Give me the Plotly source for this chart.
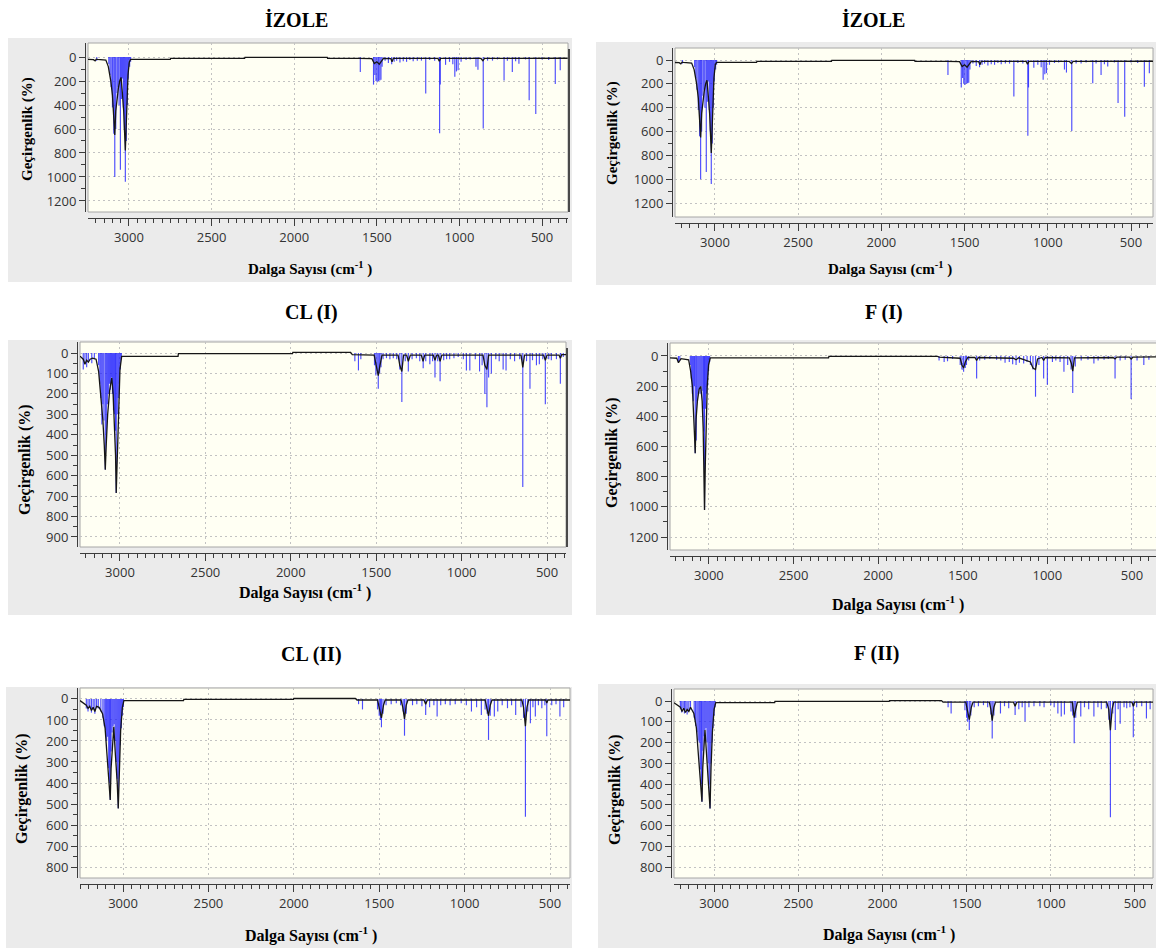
import plotly.graph_objects as go

W, H = 1156, 948

# ---------------------------------------------------------------- axis ticks
wn_ticks = [3000, 2500, 2000, 1500, 1000, 500]
ticks_1200 = [0, 200, 400, 600, 800, 1000, 1200]
ticks_900 = [0, 100, 200, 300, 400, 500, 600, 700, 800, 900]
ticks_800 = [0, 100, 200, 300, 400, 500, 600, 700, 800]

# ---------------------------------------------------------------- İZOLE
izole_stick_wn = [3195, 3122, 3115, 3108, 3100, 3092, 3086, 3080, 3072, 3066, 3060, 3052, 3046, 3040,
                  3034, 3028, 3022, 3016, 3010, 3004, 2996, 2990,
                  1600, 1520, 1512, 1505, 1498, 1490, 1482, 1475, 1468, 1450, 1430, 1410, 1395, 1380,
                  1360, 1340, 1320, 1300, 1280, 1255, 1230, 1204, 1180, 1150, 1120, 1116, 1084, 1060,
                  1040, 1028, 1018, 1008, 990, 960, 935, 900, 888, 856, 830, 800, 770, 730, 710, 680,
                  660, 640, 600, 578, 538, 500, 460, 420, 390]
izole_stick_int = [30, 60, 150, 250, 420, 640, 1000, 600, 300, 250, 400, 940, 350, 180,
                   420, 600, 1040, 700, 400, 180, 80, 40,
                   125, 230, 150, 200, 210, 200, 195, 190, 80, 30, 50, 60, 40, 30,
                   45, 35, 40, 25, 35, 30, 30, 305, 25, 30, 635, 230, 65, 40,
                   60, 165, 120, 110, 40, 25, 20, 80, 105, 595, 30, 30, 20, 195, 30, 125,
                   35, 55, 20, 360, 475, 20, 25, 225, 110]
izole_line_wn = [3248, 3215, 3205, 3198, 3190, 3140, 3125, 3110, 3100, 3092, 3086, 3080, 3072, 3064,
                 3056, 3048, 3040, 3032, 3022, 3014, 3006, 2998, 2990, 2750, 2748, 2300, 2298, 1800,
                 1798, 1610, 1530, 1515, 1500, 1485, 1470, 1460, 1415, 1408, 1400, 1130, 1122, 1114,
                 870, 858, 848, 345]
izole_line_val = [20, 22, 32, 18, 20, 25, 80, 200, 320, 500, 650, 450, 330, 260,
                  200, 170, 300, 450, 780, 420, 150, 40, 20, 20, 12, 12, 3, 3,
                  12, 12, 14, 55, 40, 60, 30, 12, 14, 40, 12, 12, 35, 12,
                  12, 30, 12, 10]

# ---------------------------------------------------------------- CL (I)
cl1_stick_wn = [3215, 3205, 3195, 3185, 3165, 3150, 3125, 3118, 3112, 3106, 3100, 3094, 3086, 3080,
                3074, 3068, 3062, 3056, 3050, 3044, 3038, 3032, 3026, 3022, 3016, 3010, 3004, 2998, 2992,
                1625, 1604, 1590, 1510, 1502, 1495, 1488, 1480, 1472, 1460, 1440, 1420, 1400, 1380,
                1362, 1350, 1330, 1312, 1290, 1265, 1245, 1225, 1210, 1186, 1170, 1156, 1140, 1126,
                1105, 1088, 1070, 1045, 1020, 990, 972, 952, 920, 895, 880, 864, 852, 842, 826, 800,
                780, 757, 740, 715, 690, 660, 642, 620, 600, 585, 562, 545, 525, 510, 490, 475, 445,
                422, 405]
cl1_stick_int = [80, 50, 70, 40, 50, 30, 60, 150, 220, 350, 250, 330, 570, 400,
                 250, 200, 150, 180, 120, 200, 280, 300, 380, 685, 300, 220, 150, 80, 30,
                 40, 85, 30, 60, 110, 90, 175, 100, 70, 30, 25, 30, 25, 30,
                 80, 240, 40, 90, 30, 25, 40, 75, 40, 55, 40, 120, 40, 138,
                 35, 30, 30, 25, 20, 30, 85, 85, 30, 90, 60, 200, 265, 120, 100, 30,
                 40, 80, 85, 30, 40, 30, 655, 40, 175, 35, 60, 55, 30, 250, 30, 35, 30,
                 150, 20]
cl1_line_wn = [3234, 3215, 3205, 3195, 3185, 3175, 3160, 3140, 3125, 3112, 3100, 3092, 3086, 3080,
               3072, 3060, 3048, 3040, 3032, 3026, 3022, 3016, 3008, 3000, 2990, 2660, 2658, 1990,
               1988, 1650, 1640, 1512, 1500, 1488, 1478, 1466, 1372, 1362, 1350, 1340, 1322, 1312,
               1300, 1236, 1226, 1216, 1166, 1156, 1146, 1136, 1126, 1116, 875, 864, 852, 842,
               652, 642, 632, 520, 510, 500, 430, 422, 414, 389]
cl1_line_val = [15, 30, 55, 35, 45, 30, 25, 30, 90, 200, 330, 450, 571, 440,
                300, 180, 122, 200, 350, 500, 685, 480, 250, 80, 16, 16, 3, 3,
                -3, -3, 8, 10, 60, 110, 60, 10, 10, 60, 90, 10, 10, 40,
                10, 10, 40, 10, 10, 35, 10, 10, 40, 10, 10, 60, 80, 10,
                10, 70, 10, 10, 35, 10, 10, 25, 8, 8]

# ---------------------------------------------------------------- F (I)
f1_stick_wn = [3180, 3172, 3110, 3104, 3098, 3092, 3086, 3081, 3075, 3070, 3064, 3058, 3052, 3046,
               3040, 3034, 3030, 3026, 3020, 3014, 3008, 3002, 2996,
               1640, 1610, 1590, 1560, 1515, 1505, 1495, 1485, 1478, 1465, 1418, 1400, 1370, 1340,
               1300, 1275, 1250, 1225, 1205, 1185, 1165, 1140, 1120, 1100, 1085, 1070, 1050, 1022,
               1000, 970, 950, 925, 902, 880, 860, 850, 835, 800, 760, 725, 700, 665, 640, 600,
               570, 540, 505, 470, 430, 400]
f1_stick_int = [40, 30, 60, 150, 250, 300, 200, 645, 560, 300, 250, 220, 250, 200,
                230, 350, 500, 1020, 350, 250, 200, 100, 40,
                30, 40, 35, 20, 60, 90, 105, 80, 60, 30, 150, 30, 25, 20,
                25, 30, 45, 40, 55, 60, 45, 50, 40, 60, 90, 270, 60, 150,
                190, 40, 30, 40, 105, 60, 90, 245, 70, 30, 25, 50, 30, 25, 20, 150,
                30, 25, 285, 30, 60, 25]
f1_line_wn = [3230, 3190, 3180, 3172, 3165, 3120, 3108, 3098, 3090, 3085, 3081, 3076, 3068, 3058,
              3048, 3040, 3034, 3030, 3026, 3021, 3016, 3010, 3002, 2992, 2293, 2291, 1650, 1640,
              1515, 1505, 1495, 1485, 1470, 1428, 1418, 1408, 1200, 1185, 1170, 1100, 1085, 1070,
              1058, 1032, 1022, 1012, 870, 858, 850, 840, 612, 600, 590, 515, 505, 495, 358]
f1_line_val = [12, 15, 45, 25, 18, 25, 100, 200, 360, 530, 645, 420, 300, 220,
               203, 300, 480, 750, 1020, 700, 400, 200, 60, 12, 12, 2, 2, 8,
               15, 60, 80, 40, 10, 10, 30, 10, 15, 25, 12, 40, 80, 90,
               20, 10, 30, 10, 12, 50, 100, 12, 10, 20, 8, 8, 20, 8, 6]

# ---------------------------------------------------------------- CL (II)
cl2_stick_wn = [3215, 3205, 3195, 3185, 3175, 3165, 3155, 3145, 3130, 3118, 3110, 3102, 3096, 3090,
                3084, 3078, 3075, 3070, 3064, 3058, 3052, 3046, 3040, 3034, 3028, 3022, 3016, 3010,
                3004, 2998,
                1621, 1598, 1510, 1500, 1493, 1487, 1478, 1460, 1430, 1400, 1375, 1360, 1352, 1342,
                1305, 1280, 1250, 1228, 1205, 1180, 1161, 1140, 1113, 1085, 1055, 1020, 990, 960,
                930, 902, 880, 868, 860, 850, 826, 806, 780, 749, 725, 701, 670, 655, 644, 630,
                615, 600, 586, 568, 548, 530, 519, 490, 465, 442, 420]
cl2_stick_int = [45, 60, 40, 65, 50, 70, 40, 45, 60, 90, 130, 150, 200, 180,
                 330, 400, 480, 250, 160, 130, 120, 200, 300, 380, 520, 300, 220, 140,
                 80, 40,
                 25, 50, 50, 80, 100, 135, 70, 30, 25, 20, 30, 60, 175, 70,
                 30, 25, 35, 76, 40, 30, 84, 30, 25, 30, 25, 20, 30, 60,
                 40, 76, 50, 70, 195, 80, 84, 60, 30, 44, 30, 76, 40, 90, 560, 60,
                 116, 40, 84, 30, 44, 30, 178, 30, 25, 84, 40]
cl2_line_wn = [3252, 3215, 3205, 3195, 3185, 3175, 3165, 3155, 3140, 3120, 3105, 3095, 3085, 3080,
               3075, 3070, 3062, 3054, 3046, 3040, 3034, 3028, 3022, 3014, 3004, 2995, 2646, 2644,
               2002, 2000, 1640, 1630, 1510, 1500, 1487, 1475, 1465, 1372, 1362, 1352, 1342, 1332,
               1238, 1228, 1218, 880, 870, 860, 850, 840, 665, 655, 644, 635, 625, 525, 519, 512, 383]
cl2_line_val = [8, 30, 45, 35, 55, 40, 60, 35, 40, 70, 140, 250, 330, 400,
                481, 330, 200, 132, 250, 320, 400, 521, 320, 150, 40, 8, 8, 2,
                2, -2, -2, 5, 5, 40, 90, 30, 5, 5, 40, 95, 30, 5,
                5, 25, 5, 5, 40, 80, 30, 5, 5, 40, 130, 40, 5, 5, 20, 5, 5]

# ---------------------------------------------------------------- F (II)
f2_stick_wn = [3200, 3192, 3184, 3176, 3168, 3160, 3150, 3140, 3118, 3110, 3102, 3095, 3088, 3082,
               3076, 3072, 3066, 3060, 3054, 3048, 3042, 3036, 3030, 3024, 3018, 3012, 3006, 3000, 2994,
               1610, 1592, 1510, 1500, 1494, 1484, 1475, 1455, 1430, 1400, 1375, 1356, 1348, 1338,
               1299, 1275, 1250, 1212, 1190, 1170, 1153, 1130, 1100, 1065, 1040, 1000, 980, 958,
               938, 919, 880, 870, 861, 852, 822, 800, 775, 744, 720, 700, 670, 655, 646, 632,
               617, 600, 588, 565, 549, 530, 510, 490, 460, 432, 410]
f2_stick_int = [40, 55, 35, 60, 45, 65, 50, 40, 80, 120, 150, 190, 200, 330,
                400, 485, 240, 170, 140, 130, 200, 300, 400, 518, 300, 200, 130, 70, 30,
                30, 60, 45, 80, 100, 140, 70, 30, 25, 20, 30, 65, 180, 70,
                60, 25, 35, 67, 40, 30, 99, 30, 25, 25, 30, 20, 30, 60,
                75, 65, 50, 70, 204, 80, 75, 30, 40, 75, 30, 40, 35, 90, 560, 60,
                140, 40, 110, 30, 35, 30, 175, 30, 25, 84, 40]
f2_line_wn = [3238, 3200, 3190, 3180, 3170, 3160, 3150, 3140, 3120, 3105, 3095, 3085, 3078, 3072,
              3067, 3060, 3054, 3046, 3038, 3030, 3024, 3018, 3010, 3000, 2990, 2640, 2638, 1960,
              1958, 1650, 1640, 1505, 1495, 1484, 1472, 1462, 1365, 1356, 1348, 1338, 1328, 1222,
              1212, 1202, 872, 861, 852, 842, 668, 656, 646, 636, 626, 518, 510, 502, 393]
f2_line_val = [8, 30, 50, 35, 55, 40, 50, 30, 60, 130, 240, 330, 400, 485,
               320, 200, 140, 240, 330, 420, 518, 320, 150, 40, 8, 8, 2, 2,
               -2, -2, 5, 5, 40, 90, 30, 5, 5, 40, 95, 30, 5, 5,
               25, 5, 5, 80, 40, 5, 5, 40, 140, 40, 5, 5, 25, 5, 5]

# ---------------------------------------------------------------- panel layout (pixels)
panels = [
    dict(title="İZOLE", sticks=(izole_stick_wn, izole_stick_int), line=(izole_line_wn, izole_line_val),
         frame=(8, 38, 572, 282), box=(88, 43, 568, 212), xr=[3248, 343], yr=[1292, -117],
         yticks=ticks_1200, title_at=(296, 19), xt_at=(310, 268), yt_at=(27, 129), lab=15, edge=True),
    dict(title="İZOLE", sticks=(izole_stick_wn, izole_stick_int), line=(izole_line_wn, izole_line_val),
         frame=(596, 42, 1156, 285), box=(675, 48, 1153, 217), xr=[3240, 368], yr=[1317, -101],
         yticks=ticks_1200, title_at=(873, 20), xt_at=(890, 268), yt_at=(612, 133), lab=15, edge=False),
    dict(title="CL (I)", sticks=(cl1_stick_wn, cl1_stick_int), line=(cl1_line_wn, cl1_line_val),
         frame=(8, 340, 572, 615), box=(80, 342, 566, 547), xr=[3234, 389], yr=[949, -54],
         yticks=ticks_900, title_at=(311, 312), xt_at=(305, 591), yt_at=(25, 460), lab=16, edge=True),
    dict(title="F (I)", sticks=(f1_stick_wn, f1_stick_int), line=(f1_line_wn, f1_line_val),
         frame=(596, 340, 1156, 615), box=(670, 343, 1160, 550), xr=[3230, 358], yr=[1286, -86],
         yticks=ticks_1200, title_at=(884, 312), xt_at=(898, 603), yt_at=(612, 453), lab=16, edge=False),
    dict(title="CL (II)", sticks=(cl2_stick_wn, cl2_stick_int), line=(cl2_line_wn, cl2_line_val),
         frame=(6, 687, 572, 948), box=(80, 688, 570, 878), xr=[3252, 383], yr=[852, -52],
         yticks=ticks_800, title_at=(311, 654), xt_at=(311, 934), yt_at=(22, 789), lab=16, edge=False),
    dict(title="F (II)", sticks=(f2_stick_wn, f2_stick_int), line=(f2_line_wn, f2_line_val),
         frame=(598, 684, 1156, 948), box=(674, 689, 1153, 878), xr=[3238, 393], yr=[853, -58],
         yticks=ticks_800, title_at=(876, 653), xt_at=(889, 933), yt_at=(615, 790), lab=16, edge=False),
]

STICK = "rgba(25,25,255,0.78)"
CURVE = "#161616"
AXIS = "#3c3c3c"
GRID = "#c2c2c2"
FRAME = "#ebebeb"
PLOT_BG = "#fffff3"
SERIF = "Liberation Serif"
SANS = "Open Sans"


def px(x):
    return x / W


def py(y):
    return 1 - y / H


def stick_path(wn, inten):
    xs, ys = [], []
    for w, v in zip(wn, inten):
        xs += [w, w, None]
        ys += [0, v, None]
    return xs, ys


fig = go.Figure()
frames, boxes, extra = [], [], []
notes = []
axes = {}

for i, p in enumerate(panels, start=1):
    sfx = "" if i == 1 else str(i)
    xref, yref = "x" + sfx, "y" + sfx

    sx, sy = stick_path(*p["sticks"])
    fig.add_trace(go.Scatter(x=sx, y=sy, mode="lines", xaxis=xref, yaxis=yref,
                             line=dict(color=STICK, width=1.15), hoverinfo="skip", showlegend=False))
    fig.add_trace(go.Scatter(x=p["line"][0], y=p["line"][1], mode="lines", xaxis=xref, yaxis=yref,
                             line=dict(color=CURVE, width=1.3), hoverinfo="skip", showlegend=False))

    fx0, fy0, fx1, fy1 = p["frame"]
    bx0, by0, bx1, by1 = p["box"]
    frames.append(dict(type="rect", xref="paper", yref="paper", layer="below",
                       x0=px(fx0), x1=px(fx1), y0=py(fy1), y1=py(fy0),
                       fillcolor=FRAME, line=dict(width=0)))
    boxes.append(dict(type="rect", xref="paper", yref="paper", layer="below",
                      x0=px(bx0), x1=px(bx1), y0=py(by1), y1=py(by0),
                      fillcolor=PLOT_BG, line=dict(color="#a6a6a6", width=1)))
    if p["edge"]:
        extra.append(dict(type="line", xref="paper", yref="paper", layer="above",
                          x0=px(bx1 + 1), x1=px(bx1 + 1), y0=py(by1), y1=py(by0 + 6),
                          line=dict(color="#4a4a4a", width=2)))

    yt = p["yticks"]
    y_minor = [(a + b) / 2 for a, b in zip(yt[:-1], yt[1:])]

    axes["xaxis" + sfx] = dict(
        domain=[px(bx0), px(min(bx1, W))], range=p["xr"], anchor="free", position=py(by1 + 6),
        showline=True, linecolor=AXIS, linewidth=1, ticks="outside", ticklen=7, tickwidth=1.3,
        tickcolor=AXIS, tickmode="array", tickvals=wn_ticks,
        tickfont=dict(family=SANS, size=13, color="#333333"),
        showgrid=True, gridcolor=GRID, gridwidth=1, griddash="2px,3px", zeroline=False,
        minor=dict(tickmode="linear", tick0=0, dtick=50, ticks="outside", ticklen=4,
                   tickwidth=1, tickcolor=AXIS, showgrid=False),
    )
    axes["yaxis" + sfx] = dict(
        domain=[py(by1), py(by0)], range=p["yr"], anchor="free", position=px(bx0 - 3),
        showline=True, linecolor=AXIS, linewidth=1, ticks="outside", ticklen=6, tickwidth=1.3,
        tickcolor=AXIS, tickmode="array", tickvals=yt,
        tickfont=dict(family=SANS, size=13, color="#333333"),
        showgrid=True, gridcolor=GRID, gridwidth=1, griddash="2px,3px", zeroline=False,
        minor=dict(tickmode="array", tickvals=y_minor, ticks="outside", ticklen=4,
                   tickwidth=1, tickcolor=AXIS, showgrid=False),
    )

    tx, ty = p["title_at"]
    notes.append(dict(text="<b>%s</b>" % p["title"], x=px(tx), y=py(ty), xref="paper", yref="paper",
                      showarrow=False, xanchor="center", yanchor="middle",
                      font=dict(family=SERIF, size=20, color="black")))
    ax_, ay_ = p["xt_at"]
    notes.append(dict(text="<b>Dalga Sayısı (cm<sup>-1</sup> )</b>", x=px(ax_), y=py(ay_),
                      xref="paper", yref="paper", showarrow=False, xanchor="center", yanchor="middle",
                      font=dict(family=SERIF, size=p["lab"], color="black")))
    gx, gy = p["yt_at"]
    notes.append(dict(text="<b>Geçirgenlik (%)</b>", x=px(gx), y=py(gy), xref="paper", yref="paper",
                      showarrow=False, xanchor="center", yanchor="middle", textangle=-90,
                      font=dict(family=SERIF, size=p["lab"], color="black")))

fig.update_layout(
    width=W, height=H, autosize=False,
    margin=dict(l=0, r=0, t=0, b=0),
    paper_bgcolor="white", plot_bgcolor="rgba(0,0,0,0)",
    shapes=frames + boxes + extra,
    annotations=notes,
    showlegend=False,
    **axes,
)

fig.write_html("out.html")
